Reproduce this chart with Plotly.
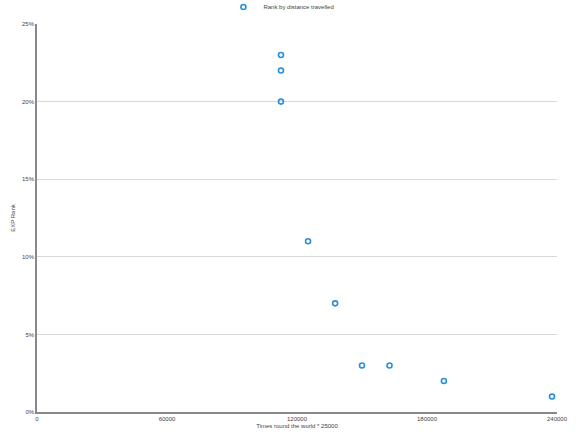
import plotly.graph_objects as go

times_round_world = [112600, 112600, 112600, 125100, 137600, 150000, 162700, 187800, 237700]
exp_rank_pct = [23, 22, 20, 11, 7, 3, 3, 2, 1]
x_ticks = [0, 60000, 120000, 180000, 240000]
y_ticks = [0, 5, 10, 15, 20, 25]

fig = go.Figure()
fig.add_trace(go.Scatter(
    x=times_round_world, y=exp_rank_pct, mode="markers",
    name="Rank by distance travelled",
    marker=dict(symbol="circle-open", size=5, color="#2a8fd6", line=dict(width=1.6, color="#2a8fd6")),
    cliponaxis=False,
))

font = "Liberation Sans, Arial, Helvetica, sans-serif"
txt = "#444444"
fig.update_layout(
    width=580, height=435,
    margin=dict(l=37, r=23, t=24, b=23, autoexpand=False),
    paper_bgcolor="white", plot_bgcolor="white",
    font=dict(family=font, size=6, color=txt),
    showlegend=True,
    legend=dict(orientation="h", x=0.47, xanchor="center", y=1 - 7 / 435, yanchor="middle",
                yref="container", font=dict(size=6, color=txt), itemwidth=30,
                bgcolor="rgba(0,0,0,0)"),
    xaxis=dict(range=[0, 240000], tickvals=x_ticks, ticktext=[str(v) for v in x_ticks],
               showgrid=False, zeroline=False, showline=True, linecolor="#888888", linewidth=1.5,
               ticks="", title=dict(text="Times round the world * 25000", font=dict(size=6, color=txt), standoff=3),
               tickfont=dict(size=6, color=txt), automargin=False),
    yaxis=dict(range=[0, 25], tickvals=y_ticks, ticktext=[f"{v}%" for v in y_ticks],
               showgrid=True, gridcolor="#d9d9d9", gridwidth=1, zeroline=False,
               showline=True, linecolor="#888888", linewidth=1.5, ticks="",
               title=dict(text="EXP Rank", font=dict(size=6, color=txt), standoff=6),
               tickfont=dict(size=6, color=txt), automargin=False),
)
fig.write_html("out.html", config={"displayModeBar": False},
               post_script="document.body.style.margin='0';")
